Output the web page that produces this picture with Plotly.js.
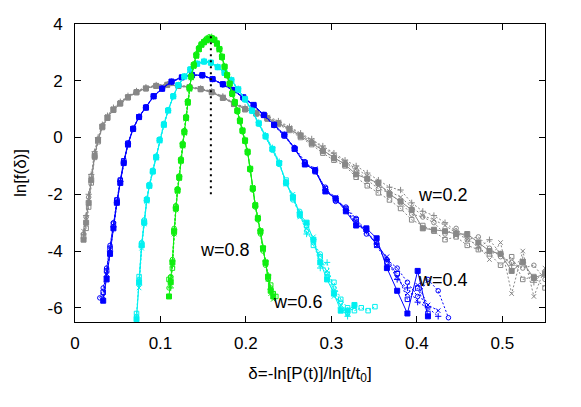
<!DOCTYPE html>
<html><head><meta charset="utf-8">
<script src="https://cdn.plot.ly/plotly-3.0.1.min.js"></script>
<style>body{margin:0;background:#fff}#plot{width:581px;height:407px}</style>
</head><body><div id="plot"></div>
<script>
// ---- w = 0.2 (gray) ----
const gx = [0.010,0.013,0.016,0.019,0.023,0.027,0.032,0.038,0.045,0.053,0.062,0.072,0.083,0.095,0.108,0.121,0.134,0.147,0.160,0.173,0.186,0.199,0.212,0.225,0.238,0.251,0.264,0.277,0.290,0.303,0.316,0.329,0.342,0.355,0.368,0.381,0.394,0.407,0.420,0.433,0.446,0.459,0.472,0.485,0.498,0.511,0.524,0.537,0.550];
const gA = [-3.6,-3.0,-2.3,-1.5,-0.65,-0.1,0.38,0.7,0.98,1.2,1.42,1.6,1.73,1.82,1.86,1.82,1.77,1.71,1.6,1.4,1.18,1.0,0.85,0.68,0.5,0.3,0.05,-0.2,-0.48,-0.72,-0.95,-1.3,-1.45,-1.6,-2.0,-2.25,-2.55,-3.2,-3.25,-3.3,-3.4,-3.4,-3.7,-4.0,-4.1,-4.7,-4.4,-4.95,-4.8];
const gB = [-3.4,-2.8,-2.1,-1.35,-0.55,-0.05,0.42,0.72,1.0,1.22,1.44,1.62,1.74,1.83,1.85,1.83,1.78,1.7,1.58,1.42,1.2,1.02,0.86,0.7,0.52,0.28,0.1,-0.15,-0.42,-0.75,-0.9,-1.15,-1.5,-1.8,-1.95,-2.3,-2.7,-2.8,-3.0,-3.4,-3.2,-3.6,-3.5,-3.9,-4.2,-4.4,-4.6,-4.5,-5.0];
const gC = [-3.3,-2.9,-2.2,-1.45,-0.6,-0.08,0.4,0.75,1.02,1.24,1.45,1.61,1.75,1.84,1.87,1.84,1.79,1.72,1.62,1.43,1.21,1.04,0.9,0.72,0.55,0.35,0.1,-0.1,-0.35,-0.6,-0.85,-1.1,-1.35,-1.7,-1.9,-2.1,-2.45,-2.75,-2.9,-3.1,-3.35,-3.6,-3.8,-4.3,-3.7,-5.5,-4.0,-5.6,-4.6];
const gD = [-3.5,-3.2,-2.45,-1.6,-0.7,-0.15,0.35,0.68,0.96,1.19,1.4,1.58,1.72,1.81,1.84,1.81,1.76,1.69,1.59,1.39,1.17,0.98,0.83,0.65,0.46,0.25,0.0,-0.25,-0.55,-0.8,-1.0,-1.4,-1.7,-1.95,-2.2,-2.5,-2.9,-3.1,-3.3,-3.6,-3.5,-3.8,-3.95,-4.1,-4.5,-4.2,-5.0,-4.9,-5.3];
const gE = [-3.4,-2.75,-2.0,-1.3,-0.5,0.0,0.45,0.77,1.05,1.26,1.47,1.64,1.77,1.85,1.88,1.85,1.8,1.73,1.63,1.45,1.23,1.06,0.92,0.75,0.58,0.38,0.15,-0.05,-0.3,-0.55,-0.8,-1.0,-1.25,-1.5,-1.75,-1.85,-2.3,-2.6,-2.75,-3.0,-3.3,-3.5,-3.9,-3.6,-4.1,-4.5,-4.3,-5.1,-4.7];

// ---- w = 0.4 (blue) ----
const bx = [0.029,0.033,0.037,0.041,0.045,0.049,0.053,0.057,0.062,0.068,0.075,0.083,0.092,0.102,0.113,0.125,0.137,0.149,0.161,0.173,0.185,0.197,0.209,0.221,0.233,0.245,0.257,0.269,0.281,0.293,0.305,0.317,0.329,0.341,0.353,0.365,0.377,0.389,0.401,0.413,0.425,0.437];
const bA = [null,-5.75,-5.0,-4.1,-3.2,-2.3,-1.6,-0.9,-0.25,0.3,0.72,1.05,1.45,1.72,1.97,2.12,2.2,2.2,2.06,1.88,1.68,1.42,1.15,0.8,0.45,0.1,-0.4,-0.95,-1.15,-1.9,-2.15,-2.6,-3.1,-3.2,-3.55,-4.6,-5.4,-6.2,-4.7,-6.3,null,null];
const bB = [-5.65,-5.3,-4.6,-3.8,-3.0,-2.2,-1.5,-0.85,-0.2,0.33,0.75,1.08,1.47,1.74,1.98,2.13,2.21,2.19,2.05,1.86,1.66,1.4,1.12,0.78,0.42,0.05,-0.35,-0.85,-1.2,-1.75,-2.25,-2.45,-2.85,-3.4,-3.7,-4.3,-4.6,-5.1,-5.6,-5.0,-5.4,-6.35];
const bC = [null,-5.6,-4.8,-3.95,-3.1,-2.25,-1.55,-0.88,-0.22,0.31,0.74,1.06,1.46,1.73,1.96,2.11,2.19,2.18,2.04,1.87,1.67,1.41,1.13,0.79,0.43,0.08,-0.38,-0.9,-1.1,-1.85,-2.1,-2.55,-3.0,-3.3,-3.8,-4.2,-4.9,-5.5,-5.2,-5.9,-6.1,null];
const bD = [null,-5.45,-4.7,-3.9,-3.05,-2.2,-1.5,-0.82,-0.2,0.32,0.73,1.07,1.46,1.72,1.97,2.12,2.2,2.18,2.05,1.87,1.66,1.4,1.13,0.78,0.44,0.06,-0.4,-0.88,-1.2,-1.8,-2.2,-2.5,-2.9,-3.25,-3.8,-4.4,-4.8,-5.7,-5.3,-6.2,null,null];
const bE = [null,null,-4.9,-4.0,-3.15,-2.3,-1.55,-0.9,-0.22,0.3,0.73,1.05,1.45,1.72,1.96,2.12,2.2,2.19,2.06,1.88,1.67,1.41,1.14,0.8,0.45,0.1,-0.37,-0.92,-1.15,-1.85,-2.15,-2.55,-3.05,-3.3,-3.75,-4.3,-5.0,-5.3,-5.8,-6.0,-6.3,null];

// ---- w = 0.6 (cyan) ----
const cx = [0.072,0.075,0.078,0.081,0.084,0.087,0.091,0.095,0.099,0.104,0.109,0.115,0.121,0.128,0.135,0.143,0.151,0.159,0.167,0.175,0.183,0.191,0.199,0.207,0.215,0.223,0.231,0.239,0.247,0.255,0.263,0.271,0.279,0.287,0.295,0.303,0.311,0.319,0.327,0.335,0.343,0.351];
const cA = [-6.4,-5.1,-3.8,-3.0,-2.2,-1.7,-1.2,-0.7,-0.1,0.45,0.95,1.45,1.85,2.15,2.4,2.6,2.68,2.64,2.48,2.28,2.02,1.7,1.35,0.95,0.5,0.05,-0.4,-0.9,-1.6,-2.1,-2.7,-3.0,-3.6,-4.4,-5.0,-5.5,-6.1,-6.1,-5.9,null,null,null];
const cB = [-6.3,-5.0,-3.7,-2.9,-2.15,-1.65,-1.15,-0.65,-0.05,0.5,0.98,1.47,1.86,2.16,2.41,2.6,2.67,2.63,2.47,2.26,2.0,1.68,1.32,0.92,0.47,0.02,-0.45,-0.95,-1.55,-2.2,-2.6,-3.3,-3.7,-4.1,-4.8,-5.3,-5.8,-6.2,null,null,null,null];
const cC = [null,-5.3,-3.9,-3.05,-2.25,-1.72,-1.2,-0.72,-0.12,0.43,0.94,1.44,1.84,2.14,2.39,2.59,2.69,2.65,2.49,2.29,2.03,1.71,1.36,0.96,0.52,0.07,-0.38,-0.88,-1.65,-2.0,-2.8,-3.2,-3.5,-4.5,-4.7,-5.6,-5.9,-6.2,-6.0,null,null,null];
const cD = [-6.2,-4.9,-3.75,-2.95,-2.2,-1.68,-1.18,-0.68,-0.08,0.47,0.96,1.46,1.85,2.15,2.4,2.6,2.67,2.63,2.47,2.27,2.01,1.69,1.34,0.94,0.49,0.03,-0.42,-0.92,-1.5,-2.15,-2.75,-3.1,-3.8,-4.2,-4.9,-5.1,-5.7,-6.0,-6.1,-6.0,-6.1,-5.96];
const cE = [null,-5.2,-3.85,-3.02,-2.22,-1.7,-1.22,-0.7,-0.1,0.44,0.95,1.45,1.85,2.15,2.4,2.61,2.7,2.66,2.5,2.3,2.04,1.72,1.37,0.97,0.53,0.08,-0.36,-0.85,-1.62,-2.05,-2.65,-3.4,-3.6,-4.6,-4.4,-5.4,-6.0,-6.3,null,null,null,null];

// ---- w = 0.8 (green) ----
const hx = [0.110,0.112,0.114,0.116,0.118,0.120,0.122,0.124,0.126,0.128,0.130,0.132,0.134,0.136,0.139,0.142,0.145,0.148,0.151,0.154,0.157,0.160,0.163,0.166,0.169,0.172,0.175,0.178,0.181,0.184,0.187,0.190,0.193,0.196,0.199,0.202,0.205,0.208,0.211,0.214,0.217,0.220,0.223,0.226,0.229,0.232,0.235];
const hA = [-5.6,-5.1,-4.4,-3.3,-2.5,-1.85,-1.4,-0.8,-0.25,0.2,0.7,1.25,1.75,2.15,2.55,2.9,3.12,3.28,3.36,3.43,3.48,3.5,3.45,3.32,3.12,2.85,2.5,2.2,1.9,1.55,1.25,0.95,0.6,0.25,-0.1,-0.5,-1.1,-1.8,-2.4,-2.85,-3.3,-3.9,-4.4,-4.9,-5.4,-5.6,null];
const hB = [-5.3,-4.9,-4.3,-3.2,-2.4,-1.8,-1.35,-0.75,-0.2,0.25,0.75,1.3,1.78,2.18,2.6,2.95,3.18,3.3,3.4,3.5,3.55,3.52,3.42,3.3,3.1,2.8,2.46,2.17,1.86,1.52,1.2,0.9,0.55,0.2,-0.15,-0.55,-1.15,-1.85,-2.45,-2.9,-3.4,-4.0,-4.5,-5.0,-5.3,-5.5,null];
const hC = [null,-5.2,-4.5,-3.4,-2.55,-1.9,-1.45,-0.85,-0.3,0.15,0.65,1.2,1.7,2.1,2.5,2.85,3.1,3.25,3.38,3.45,3.5,3.47,3.4,3.28,3.08,2.82,2.48,2.18,1.88,1.5,1.22,0.92,0.58,0.22,-0.12,-0.52,-1.12,-1.75,-2.35,-2.8,-3.35,-3.95,-4.45,-5.0,-5.5,-5.7,null];
const hD = [-5.0,-4.95,-4.6,-3.35,-2.45,-1.88,-1.42,-0.82,-0.28,0.18,0.68,1.22,1.72,2.12,2.52,2.88,3.1,3.26,3.35,3.42,3.46,3.48,3.44,3.3,3.1,2.83,2.49,2.19,1.89,1.53,1.23,0.93,0.57,0.23,-0.13,-0.53,-1.12,-1.78,-2.38,-2.83,-3.32,-3.92,-4.42,-4.95,-5.2,-5.5,-5.6];
const hE = [null,-5.3,-4.35,-3.25,-2.48,-1.83,-1.38,-0.78,-0.22,0.22,0.72,1.27,1.76,2.16,2.57,2.92,3.15,3.3,3.4,3.47,3.52,3.55,3.47,3.34,3.14,2.87,2.52,2.22,1.92,1.57,1.27,0.97,0.62,0.27,-0.08,-0.48,-1.08,-1.82,-2.42,-2.88,-3.28,-3.85,-4.35,-4.85,-5.35,null,null];

// reference dotted line and curve labels
const refX = [0.159, 0.159];
const refY = [-2.0, 3.6];
const labelText = ['w=0.2','w=0.4','w=0.6','w=0.8'];
const labelX = [0.431, 0.431, 0.261, 0.176];
const labelY = [-2.02, -5.01, -5.79, -3.96];

const groups = [
  {x: gx, ys: [gA,gB,gC,gD,gE], color: '#888888'},
  {x: bx, ys: [bA,bB,bC,bD,bE], color: '#0000ff'},
  {x: cx, ys: [cA,cB,cC,cD,cE], color: '#00f0f0'},
  {x: hx, ys: [hA,hB,hC,hD,hE], color: '#10ee10'}
];
const symbols = ['square','circle-open','x-thin-open','square-open','cross-thin-open'];
const traces = [];
groups.forEach(g => {
  g.ys.forEach((y, i) => {
    traces.push({
      x: g.x, y: y, type: 'scatter', mode: 'lines+markers',
      line: {color: g.color, width: 1, dash: i === 0 ? 'solid' : '2px,2px'},
      marker: {symbol: symbols[i], size: i === 0 ? 5 : 4.5, color: g.color, line: {color: g.color, width: 1}},
      showlegend: false, hoverinfo: 'skip', cliponaxis: true
    });
  });
});
traces.push({x: refX, y: refY, type: 'scatter', mode: 'lines',
  line: {color: '#000', width: 2, dash: '2px,4px'}, showlegend: false, hoverinfo: 'skip'});

const font = 'Liberation Sans, Arial, Helvetica, sans-serif';
const layout = {
  width: 581, height: 407,
  margin: {l: 75, r: 36, t: 24, b: 85},
  paper_bgcolor: '#fff', plot_bgcolor: '#fff',
  font: {family: font, size: 17, color: '#000'},
  xaxis: {
    range: [0, 0.55], tickvals: [0,0.1,0.2,0.3,0.4,0.5], ticktext: ['0','0.1','0.2','0.3','0.4','0.5'],
    ticks: 'inside', ticklen: 6, tickcolor: '#000', mirror: 'ticks', showline: true, linecolor: '#000', linewidth: 1,
    showgrid: false, zeroline: false, tickfont: {size: 17}, ticklabelstandoff: 6,
    title: {text: 'δ=-ln[P(t)]/ln[t/t<sub>0</sub>]', font: {size: 17}, standoff: 14}
  },
  yaxis: {
    range: [-6.5, 4], tickvals: [-6,-4,-2,0,2,4], ticktext: ['-6','-4','-2','0','2','4'],
    ticks: 'inside', ticklen: 6, tickcolor: '#000', mirror: 'ticks', showline: true, linecolor: '#000', linewidth: 1,
    showgrid: false, zeroline: false, tickfont: {size: 17}, ticklabelstandoff: 8,
    title: {text: 'ln[f(δ)]', font: {size: 17}, standoff: 16}
  },
  annotations: labelText.map((t, i) => ({x: labelX[i], y: labelY[i], xref: 'x', yref: 'y', text: t,
    showarrow: false, font: {size: 18, color: '#000'}, xanchor: 'center', yanchor: 'middle'}))
};
Plotly.newPlot('plot', traces, layout, {displayModeBar: false, staticPlot: true});
</script></body></html>
